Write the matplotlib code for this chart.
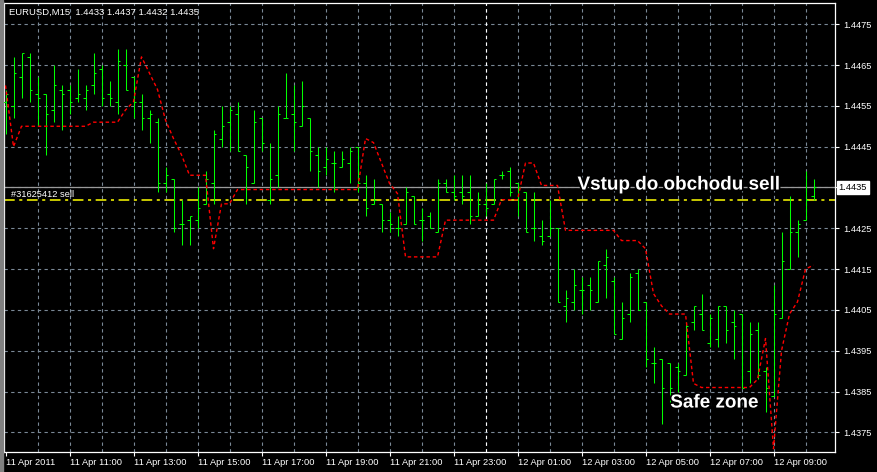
import matplotlib
matplotlib.use("Agg")
import matplotlib.pyplot as plt
import matplotlib.patheffects as pe
from matplotlib.transforms import blended_transform_factory

# --- chart data (EURUSD M15) ---
opens = [1.4456, 1.4455, 1.4462, 1.4467, 1.4458, 1.4458, 1.4454, 1.4459, 1.4459, 1.4457,
         1.4457, 1.4460, 1.4464, 1.4458, 1.4456, 1.4465, 1.4462, 1.4456, 1.4452, 1.4451,
         1.4436, 1.4437, 1.4426, 1.4427, 1.4427, 1.4431, 1.4436, 1.4447, 1.4451, 1.4453,
         1.4443, 1.4436, 1.4452, 1.4432, 1.4438, 1.4452, 1.4453, 1.4450, 1.4452, 1.4443,
         1.4440, 1.4441, 1.4440, 1.4441, 1.4445, 1.4436, 1.4431, 1.4431, 1.4427, 1.4425,
         1.4426, 1.4433, 1.4427, 1.4428, 1.4424, 1.4436, 1.4434, 1.4434, 1.4434, 1.4428,
         1.4431, 1.4431, 1.4438, 1.4439, 1.4436, 1.4434, 1.4425, 1.4423, 1.4423, 1.4425,
         1.4406, 1.4407, 1.4410, 1.4411, 1.4407, 1.4416, 1.4412, 1.4398, 1.4404, 1.4414,
         1.4407, 1.4392, 1.4393, 1.4392, 1.4391, 1.4389, 1.4402, 1.4404, 1.4397, 1.4398,
         1.4406, 1.4402, 1.4404, 1.4390, 1.4400, 1.4390, 1.4384, 1.4403, 1.4415, 1.4424,
         1.4427, 1.4433]
highs = [1.4459, 1.4467, 1.4468, 1.4468, 1.4462, 1.4458, 1.4465, 1.4460, 1.4460, 1.4464,
         1.4460, 1.4468, 1.4465, 1.4461, 1.4469, 1.4469, 1.4462, 1.4458, 1.4454, 1.4452,
         1.4440, 1.4437, 1.4432, 1.4428, 1.4435, 1.4439, 1.4449, 1.4455, 1.4455, 1.4456,
         1.4443, 1.4454, 1.4452, 1.4446, 1.4455, 1.4463, 1.4460, 1.4461, 1.4452, 1.4445,
         1.4445, 1.4444, 1.4444, 1.4445, 1.4445, 1.4438, 1.4437, 1.4431, 1.4429, 1.4428,
         1.4435, 1.4433, 1.4430, 1.4429, 1.4437, 1.4437, 1.4438, 1.4438, 1.4438, 1.4434,
         1.4436, 1.4437, 1.4439, 1.4440, 1.4436, 1.4434, 1.4434, 1.4427, 1.4432, 1.4425,
         1.4410, 1.4415, 1.4413, 1.4413, 1.4417, 1.4420, 1.4413, 1.4407, 1.4414, 1.4415,
         1.4407, 1.4396, 1.4393, 1.4392, 1.4392, 1.4402, 1.4406, 1.4409, 1.4404, 1.4406,
         1.4406, 1.4405, 1.4404, 1.4402, 1.4402, 1.4391, 1.4411, 1.4424, 1.4433, 1.4427,
         1.4439, 1.4437]
lows = [1.4448, 1.4452, 1.4457, 1.4456, 1.4450, 1.4443, 1.4451, 1.4449, 1.4453, 1.4456,
        1.4454, 1.4458, 1.4455, 1.4455, 1.4453, 1.4459, 1.4452, 1.4449, 1.4446, 1.4434,
        1.4434, 1.4424, 1.4421, 1.4421, 1.4425, 1.4431, 1.4431, 1.4445, 1.4444, 1.4444,
        1.4431, 1.4436, 1.4444, 1.4431, 1.4435, 1.4452, 1.4444, 1.4450, 1.4439, 1.4435,
        1.4438, 1.4434, 1.4440, 1.4436, 1.4434, 1.4428, 1.4431, 1.4424, 1.4424, 1.4423,
        1.4426, 1.4426, 1.4422, 1.4425, 1.4424, 1.4434, 1.4432, 1.4431, 1.4426, 1.4428,
        1.4428, 1.4431, 1.4437, 1.4433, 1.4428, 1.4424, 1.4422, 1.4421, 1.4423, 1.4407,
        1.4402, 1.4405, 1.4404, 1.4405, 1.4407, 1.4408, 1.4399, 1.4398, 1.4402, 1.4405,
        1.4391, 1.4387, 1.4377, 1.4382, 1.4385, 1.4389, 1.4400, 1.4400, 1.4396, 1.4396,
        1.4397, 1.4393, 1.4386, 1.4387, 1.4388, 1.4380, 1.4384, 1.4403, 1.4415, 1.4418,
        1.4427, 1.4432]
closes = [1.4458, 1.4463, 1.4468, 1.4459, 1.4457, 1.4453, 1.4460, 1.4458, 1.4456, 1.4458,
          1.4459, 1.4463, 1.4457, 1.4457, 1.4466, 1.4459, 1.4456, 1.4452, 1.4453, 1.4436,
          1.4438, 1.4425, 1.4426, 1.4428, 1.4430, 1.4437, 1.4448, 1.4450, 1.4454, 1.4444,
          1.4440, 1.4451, 1.4446, 1.4437, 1.4453, 1.4452, 1.4451, 1.4455, 1.4444, 1.4439,
          1.4442, 1.4441, 1.4442, 1.4444, 1.4436, 1.4430, 1.4432, 1.4427, 1.4426, 1.4425,
          1.4434, 1.4426, 1.4427, 1.4425, 1.4436, 1.4434, 1.4433, 1.4433, 1.4428, 1.4431,
          1.4430, 1.4437, 1.4438, 1.4434, 1.4435, 1.4424, 1.4425, 1.4422, 1.4425, 1.4407,
          1.4408, 1.4411, 1.4410, 1.4410, 1.4417, 1.4418, 1.4399, 1.4403, 1.4413, 1.4405,
          1.4393, 1.4392, 1.4386, 1.4386, 1.4390, 1.4401, 1.4406, 1.4400, 1.4403, 1.4406,
          1.4400, 1.4401, 1.4386, 1.4399, 1.4389, 1.4386, 1.4404, 1.4417, 1.4424, 1.4426,
          1.4432, 1.4435]
# red dotted indicator line
indicator = [1.4460, 1.4445, 1.4450, 1.4450, 1.4450, 1.4450, 1.4450, 1.4450, 1.4450, 1.4450,
             1.4450, 1.4451, 1.4451, 1.4451, 1.4451, 1.4454, 1.4456, 1.4467, 1.4463, 1.4459,
             1.44515, 1.4447, 1.4443, 1.4438, 1.4438, 1.4438, 1.4420, 1.4431, 1.4431, 1.44345,
             1.44345, 1.44345, 1.44345, 1.44345, 1.44345, 1.44345, 1.44345, 1.44345, 1.44345, 1.44345,
             1.44345, 1.44345, 1.44345, 1.44345, 1.44345, 1.4447, 1.4446, 1.4441, 1.4436, 1.44335,
             1.4418, 1.4418, 1.4418, 1.4418, 1.4418, 1.4427, 1.4427, 1.4427, 1.4427, 1.4427,
             1.4427, 1.4427, 1.4432, 1.4432, 1.4432, 1.4441, 1.4441, 1.44355, 1.44355, 1.44355,
             1.44245, 1.44245, 1.44245, 1.44245, 1.44245, 1.44245, 1.44245, 1.4422, 1.4422, 1.4422,
             1.4420, 1.4409, 1.4406, 1.4404, 1.4404, 1.4404, 1.4387, 1.4386, 1.4386, 1.4386,
             1.4386, 1.4386, 1.4386, 1.4386, 1.4388, 1.4398, 1.4371, 1.4395, 1.4404, 1.4407,
             1.4415, 1.4416]

time_labels = ["11 Apr 2011", "11 Apr 11:00", "11 Apr 13:00", "11 Apr 15:00", "11 Apr 17:00",
               "11 Apr 19:00", "11 Apr 21:00", "11 Apr 23:00", "12 Apr 01:00", "12 Apr 03:00",
               "12 Apr 05:00", "12 Apr 07:00", "12 Apr 09:00"]
price_ticks = [1.4375, 1.4385, 1.4395, 1.4405, 1.4415, 1.4425, 1.4435, 1.4445, 1.4455, 1.4465, 1.4475]

symbol = "EURUSD,M15"
bid = 1.4435
order_price = 1.4432
order_label = "#31625412 sell"
day_break = 60  # bar index of 12 Apr 00:00

# --- figure ---
W, H = 877, 472
fig = plt.figure(figsize=(W / 100, H / 100), dpi=100, facecolor="black")
ax = fig.add_axes([4 / W, 1 - 452 / H, 831 / W, 449 / H], facecolor="black")

font = "Liberation Sans"
green = "#00ff00"
grid_col = "#7a8896"

n = len(opens)
xs = list(range(n))

# 8 px per bar, bar centres sitting on pixel centres
ax.set_xlim(-0.1875, 103.6875)
ax.set_ylim(1.43702, 1.44802)

# grid
for gx in range(4, 104, 4):
    ax.axvline(gx, color=grid_col, lw=0.8, ls=(0, (3, 3)), zorder=1)
for gy in price_ticks:
    ax.axhline(gy, color=grid_col, lw=0.8, ls=(0, (3, 3)), zorder=1)
ax.axvline(day_break, color="white", lw=0.8, ls=(0, (3, 3)), zorder=1.5)

# OHLC bars, 1 px wide
bar_lw = 0.75
ax.vlines(xs, lows, highs, color=green, lw=bar_lw, zorder=3)
ax.hlines(opens, [x - 0.3 for x in xs], xs, color=green, lw=bar_lw, zorder=3)
ax.hlines(closes, xs, [x + 0.3 for x in xs], color=green, lw=bar_lw, zorder=3)

# indicator
ax.plot(xs, indicator, color="#ff0000", lw=1.0, ls=(0, (2.5, 2)), zorder=4)

# bid and order lines
ax.axhline(bid, color="#9a9a9a", lw=0.9, zorder=2)
ax.axhline(order_price, color="#ffff00", lw=1.1, ls=(0, (7, 3, 2, 3)), zorder=2.5)
ax.text(0.7, order_price + 0.00003, order_label, color="white", fontsize=6.7,
        family=font, va="bottom", ha="left", zorder=5)

# axes styling
for s in ax.spines.values():
    s.set_color("white")
    s.set_linewidth(0.9)
ax.yaxis.tick_right()
ax.set_yticks(price_ticks)
# the bid box covers the 1.4435 level, so that tick gets no label of its own
ax.set_yticklabels(["" if abs(p - bid) < 1e-6 else f"{p:.4f}" for p in price_ticks])
ax.set_xticks(list(range(0, 104, 8)))
ax.set_xticklabels(time_labels, ha="left")
ax.tick_params(axis="both", colors="white", labelsize=6.7, length=3, width=0.8, direction="out")
ax.tick_params(axis="y", pad=3)
ax.tick_params(axis="x", pad=1.5)
for lab in ax.get_xticklabels() + ax.get_yticklabels():
    lab.set_family(font)

# bid label on the price scale
tr = blended_transform_factory(ax.transAxes, ax.transData)
ax.text(1.0045, bid, f"{bid:.4f}", transform=tr, color="black", fontsize=6.7, family=font,
        ha="left", va="center", zorder=10, clip_on=False,
        bbox=dict(boxstyle="square,pad=0.18", fc="white", ec="white"))

# header
ax.text(0.006, 0.98, f"{symbol}  {opens[-1]:.4f} {highs[-1]:.4f} {lows[-1]:.4f} {closes[-1]:.4f}",
        transform=ax.transAxes, color="white", fontsize=6.8, family=font, ha="left", va="center")

# annotations
outline = [pe.withStroke(linewidth=2.5, foreground="black")]
ax.text(71.5, 1.44356, "Vstup do obchodu sell", color="white", fontsize=13.6, family=font,
        fontweight="bold", ha="left", va="center", path_effects=outline, zorder=8)
ax.text(83.1, 1.43822, "Safe zone", color="white", fontsize=13.6, family=font,
        fontweight="bold", ha="left", va="center", path_effects=outline, zorder=8)

# thin window border at left
fig.patches.append(plt.Rectangle((0, 0), 3 / W, 1, transform=fig.transFigure,
                                 color="#808080", zorder=0))

fig.savefig("out.png", dpi=100, facecolor="black")
